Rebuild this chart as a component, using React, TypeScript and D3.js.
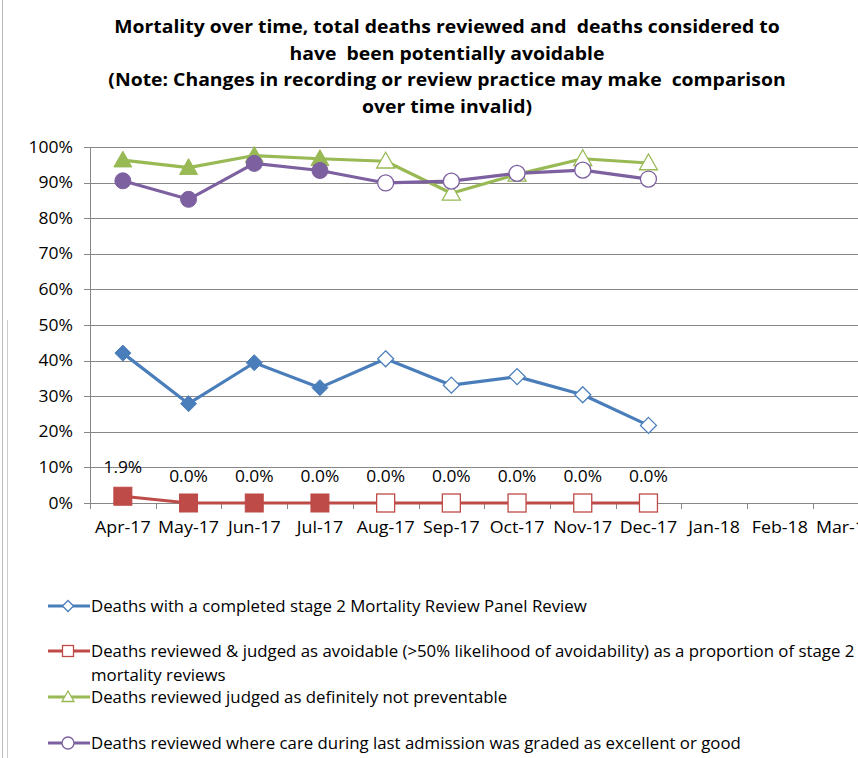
import React from "react";
import * as d3 from "d3";

const categories = ["Apr-17","May-17","Jun-17","Jul-17","Aug-17","Sep-17","Oct-17","Nov-17","Dec-17","Jan-18","Feb-18","Mar-18"];
const completedReview = [0.421, 0.279, 0.394, 0.324, 0.405, 0.331, 0.355, 0.304, 0.218];
const avoidable = [0.019, 0, 0, 0, 0, 0, 0, 0, 0];
const notPreventable = [0.963, 0.942, 0.976, 0.967, 0.96, 0.87, 0.923, 0.967, 0.955];
const careGood = [0.905, 0.853, 0.954, 0.934, 0.899, 0.904, 0.926, 0.935, 0.91];
const yTicks = [0, 0.1, 0.2, 0.3, 0.4, 0.5, 0.6, 0.7, 0.8, 0.9, 1.0];
const filledCount = 4;
const titleLines = [
  "Mortality over time, total deaths reviewed and  deaths considered to",
  "have  been potentially avoidable",
  "(Note: Changes in recording or review practice may make  comparison",
  "over time invalid)",
];

const BLUE = "#4A7EBB";
const RED = "#BE4B48";
const GREEN = "#98B954";
const PURPLE = "#7D60A0";
const FONT = "'Open Sans', Lato, sans-serif";

type Shape = "diamond" | "square" | "triangle" | "circle";

function Marker({ shape, x, y, color, filled, size }: { shape: Shape; x: number; y: number; color: string; filled: boolean; size: number }) {
  const fill = filled ? color : "#fff";
  const sw = filled ? 1 : 1.3;
  if (shape === "circle") return <circle cx={x} cy={y} r={size} fill={fill} stroke={color} strokeWidth={sw} />;
  if (shape === "square") return <rect x={x - size} y={y - size} width={size * 2} height={size * 2} fill={fill} stroke={color} strokeWidth={sw} />;
  if (shape === "diamond") return <path d={`M${x},${y - size}L${x + size},${y}L${x},${y + size}L${x - size},${y}Z`} fill={fill} stroke={color} strokeWidth={sw} />;
  return <path d={`M${x},${y - size}L${x + size},${y + size * 0.75}L${x - size},${y + size * 0.75}Z`} fill={fill} stroke={color} strokeWidth={sw} />;
}

function T({ x, y, sx, anchor, size, bold, children }: { x: number; y: number; sx: number; anchor?: string; size: number; bold?: boolean; children: React.ReactNode }) {
  return (
    <text transform={`translate(${x},${y}) scale(${sx},1)`} textAnchor={anchor || "start"} fontSize={size} fontWeight={bold ? "bold" : "normal"} fill="#000" style={{ whiteSpace: "pre" }}>
      {children}
    </text>
  );
}

export default function App() {
  const W = 858, H = 758;
  const x = d3.scaleBand().domain(categories).range([90, 90 + 12 * 65.7]);
  const y = d3.scaleLinear().domain([0, 1]).range([503, 147]);
  const cx = (i: number) => (x(categories[i]) as number) + x.bandwidth() / 2;
  const line = d3.line<number>().x((_, i) => cx(i)).y((d) => y(d));

  const series: { data: number[]; color: string; shape: Shape; size: number }[] = [
    { data: notPreventable, color: GREEN, shape: "triangle", size: 9 },
    { data: careGood, color: PURPLE, shape: "circle", size: 8 },
    { data: completedReview, color: BLUE, shape: "diamond", size: 8 },
    { data: avoidable, color: RED, shape: "square", size: 9 },
  ];

  const legend = [
    { color: BLUE, shape: "diamond" as Shape, size: 5.5, lines: ["Deaths with a completed stage 2 Mortality Review Panel Review"], y: 606 },
    { color: RED, shape: "square" as Shape, size: 5.5, lines: ["Deaths reviewed & judged as avoidable (>50% likelihood of avoidability) as a proportion of stage 2", "mortality reviews"], y: 651 },
    { color: GREEN, shape: "triangle" as Shape, size: 6, lines: ["Deaths reviewed judged as definitely not preventable"], y: 697 },
    { color: PURPLE, shape: "circle" as Shape, size: 6, lines: ["Deaths reviewed where care during last admission was graded as excellent or good"], y: 743 },
  ];

  return (
    <svg width={W} height={H} style={{ position: "absolute", left: 0, top: 0, background: "#fff" }} fontFamily={FONT}>
      <rect x={0} y={0} width={W} height={H} fill="#fff" />
      <line x1={2.5} x2={2.5} y1={0} y2={H} stroke="#bbb" strokeWidth={1} />
      <line x1={7.5} x2={7.5} y1={320} y2={H} stroke="#ccc" strokeWidth={1} />
      {titleLines.map((t, i) => (
        <T key={i} x={447} y={33 + i * 26.5} sx={1.14} anchor="middle" size={17} bold>{t}</T>
      ))}
      {yTicks.map((t) => (
        <g key={t}>
          <line x1={84} x2={W} y1={Math.round(y(t)) + 0.5} y2={Math.round(y(t)) + 0.5} stroke="#878787" strokeWidth={1} />
          <T x={73} y={y(t) + 5.5} sx={1.13} anchor="end" size={15.5}>{`${Math.round(t * 100)}%`}</T>
        </g>
      ))}
      <line x1={90.5} x2={90.5} y1={147} y2={503} stroke="#878787" strokeWidth={1} />
      {categories.map((c, i) => (
        <g key={c}>
          <line x1={Math.round(x(c) as number) + 0.5} x2={Math.round(x(c) as number) + 0.5} y1={503} y2={509} stroke="#878787" />
          <T x={cx(i)} y={533} sx={1.15} anchor="middle" size={15.5}>{c}</T>
        </g>
      ))}
      {series.map((s, si) => (
        <g key={si}>
          <path d={line(s.data) || ""} fill="none" stroke={s.color} strokeWidth={3.2} strokeLinejoin="round" />
          {s.data.map((v, i) => (
            <Marker key={i} shape={s.shape} x={cx(i)} y={y(v)} color={s.color} filled={i < filledCount} size={s.size} />
          ))}
        </g>
      ))}
      {avoidable.map((v, i) => (
        <T key={i} x={cx(i)} y={y(v) - (i === 0 ? 23 : 21)} sx={1.12} anchor="middle" size={15.5}>{`${(v * 100).toFixed(1)}%`}</T>
      ))}
      {legend.map((l, li) => (
        <g key={li}>
          <line x1={48} x2={90} y1={l.y} y2={l.y} stroke={l.color} strokeWidth={3} />
          <Marker shape={l.shape} x={68} y={l.y} color={l.color} filled={false} size={l.size} />
          {l.lines.map((t, ti) => (
            <T key={ti} x={91} y={l.y + 6 + ti * 24} sx={1.085} size={15.5}>{t}</T>
          ))}
        </g>
      ))}
    </svg>
  );
}
